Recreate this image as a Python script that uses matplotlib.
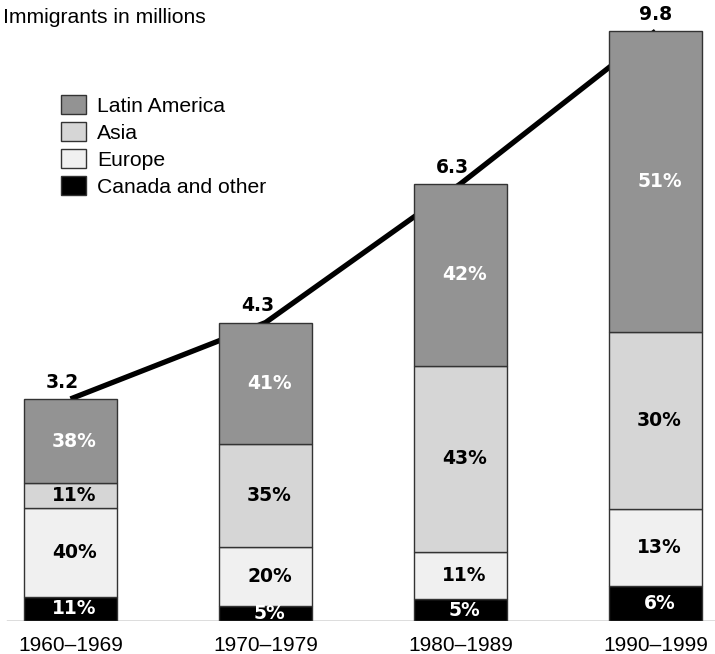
import numpy as np
import matplotlib
matplotlib.use('Agg')
import matplotlib.pyplot as plt

plt.rcParams['font.family'] = ['Liberation Sans', 'DejaVu Sans']

# Data
decades = ['1960\u20131969', '1970\u20131979', '1980\u20131989', '1990\u20131999']
regions = ['Canada and other', 'Europe', 'Asia', 'Latin America']  # bottom to top
canada = [11, 5, 5, 6]
europe = [40, 20, 11, 13]
asia = [11, 35, 43, 30]
latin = [38, 41, 42, 51]
totals = [3.2, 4.3, 6.3, 9.8]
# bar heights as drawn in the original (last bar is squeezed to fit)
drawn_totals = [3.2, 4.3, 6.3, 8.5]

colors = ['#000000', '#f0f0f0', '#d6d6d6', '#939393']
text_colors = ['white', 'black', 'black', 'white']

shares = np.array([canada, europe, asia, latin], dtype=float)
shares = shares / shares.sum(axis=0)
heights = shares * np.array(drawn_totals)

fig = plt.figure(figsize=(7.15, 6.54), dpi=100)
ax = fig.add_axes([0, 33 / 654, 1, 621 / 654])

x = np.arange(len(decades))
width = 0.482

# line joining the totals, drawn behind the bars
ax.plot(x, drawn_totals, color='black', lw=3.8, zorder=2, solid_capstyle='butt')

bold = dict(family='DejaVu Sans', fontweight='bold', fontsize=13.5)

bottom = np.zeros(len(decades))
bars = []
for i, name in enumerate(regions):
    b = ax.bar(x, heights[i], width, bottom=bottom, color=colors[i],
               edgecolor='#333333', linewidth=1, label=name, zorder=3)
    bars.append(b)
    for j in range(len(decades)):
        pct = [canada, europe, asia, latin][i][j]
        ax.text(x[j] + 0.02, bottom[j] + heights[i][j] / 2, f'{pct}%',
                ha='center', va='center', color=text_colors[i], zorder=4,
                **bold)
    bottom += heights[i]

# total labels
for j in range(len(decades)):
    dx = -0.04 if j < len(decades) - 1 else 0
    ax.text(x[j] + dx, drawn_totals[j] + 0.24, f'{totals[j]}', ha='center',
            va='center', zorder=4, **bold)

ax.set_xlim(-70.5 / 195, -70.5 / 195 + 715 / 195)
ax.set_ylim(0, 621 / 69.4)
ax.axhline(0, xmin=7 / 715, color='#555555', lw=1, zorder=5)

ax.set_xticks(x)
ax.set_xticklabels(decades, fontsize=15)
ax.tick_params(axis='x', length=0, pad=11)
ax.set_yticks([])
for s in ax.spines.values():
    s.set_visible(False)

handles = [bars[3], bars[2], bars[1], bars[0]]
ax.legend(handles, ['Latin America', 'Asia', 'Europe', 'Canada and other'],
          loc='upper left', bbox_to_anchor=(61 / 715, 1 - 95 / 621),
          frameon=False, fontsize=15.2, handlelength=1.2, handleheight=1.0,
          labelspacing=0.3, handletextpad=0.5, borderaxespad=0, borderpad=0)

fig.text(3 / 715, 1 - 8 / 654, 'Immigrants in millions', ha='left', va='top',
         fontsize=15.2)

plt.savefig('out.png', dpi=100)
